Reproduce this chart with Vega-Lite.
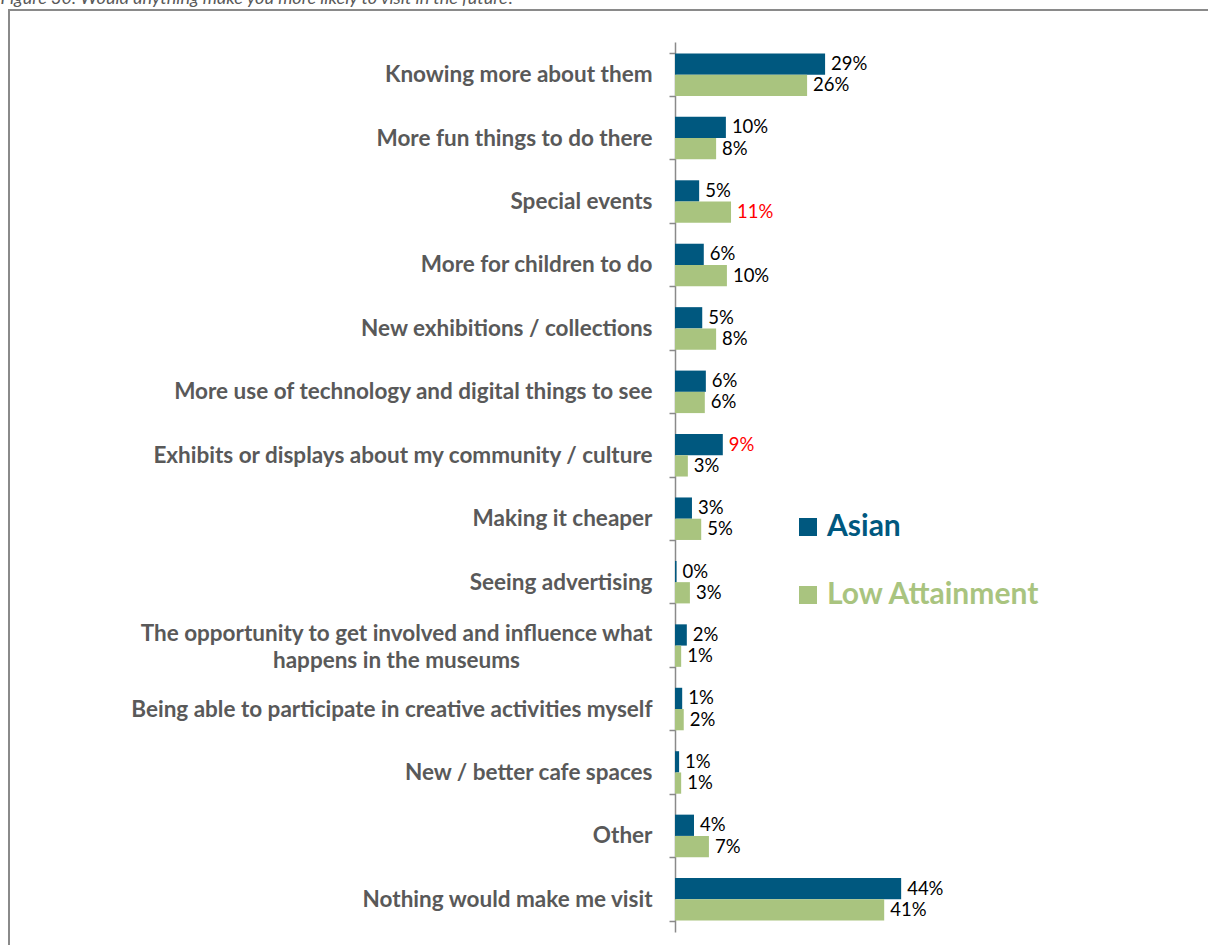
{
  "$schema": "https://vega.github.io/schema/vega-lite/v6.json",
  "autosize": {"type": "none"},
  "width": 1215,
  "height": 950,
  "padding": {"left": 9, "top": 10, "right": 0, "bottom": 0},
  "background": "white",
  "config": {
    "view": {"stroke": "#8a8a8a", "strokeWidth": 2},
    "font": "Lato"
  },
  "data": {
    "values": [
      {"category": "Knowing more about them", "group": "Asian", "value": 29.2, "label": "29%"},
      {"category": "Knowing more about them", "group": "Low Attainment", "value": 25.7, "label": "26%"},
      {"category": "More fun things to do there", "group": "Asian", "value": 9.9, "label": "10%"},
      {"category": "More fun things to do there", "group": "Low Attainment", "value": 8.0, "label": "8%"},
      {"category": "Special events", "group": "Asian", "value": 4.7, "label": "5%"},
      {"category": "Special events", "group": "Low Attainment", "value": 10.9, "label": "11%"},
      {"category": "More for children to do", "group": "Asian", "value": 5.6, "label": "6%"},
      {"category": "More for children to do", "group": "Low Attainment", "value": 10.1, "label": "10%"},
      {"category": "New exhibitions / collections", "group": "Asian", "value": 5.3, "label": "5%"},
      {"category": "New exhibitions / collections", "group": "Low Attainment", "value": 8.0, "label": "8%"},
      {"category": "More use of technology and digital things to see", "group": "Asian", "value": 6.0, "label": "6%"},
      {"category": "More use of technology and digital things to see", "group": "Low Attainment", "value": 5.8, "label": "6%"},
      {"category": "Exhibits or displays about my community / culture", "group": "Asian", "value": 9.3, "label": "9%"},
      {"category": "Exhibits or displays about my community / culture", "group": "Low Attainment", "value": 2.5, "label": "3%"},
      {"category": "Making it cheaper", "group": "Asian", "value": 3.3, "label": "3%"},
      {"category": "Making it cheaper", "group": "Low Attainment", "value": 5.1, "label": "5%"},
      {"category": "Seeing advertising", "group": "Asian", "value": 0.3, "label": "0%"},
      {"category": "Seeing advertising", "group": "Low Attainment", "value": 2.9, "label": "3%"},
      {"category": "The opportunity to get involved and influence what happens in the museums", "group": "Asian", "value": 2.3, "label": "2%"},
      {"category": "The opportunity to get involved and influence what happens in the museums", "group": "Low Attainment", "value": 1.2, "label": "1%"},
      {"category": "Being able to participate in creative activities myself", "group": "Asian", "value": 1.4, "label": "1%"},
      {"category": "Being able to participate in creative activities myself", "group": "Low Attainment", "value": 1.7, "label": "2%"},
      {"category": "New / better cafe spaces", "group": "Asian", "value": 0.8, "label": "1%"},
      {"category": "New / better cafe spaces", "group": "Low Attainment", "value": 1.2, "label": "1%"},
      {"category": "Other", "group": "Asian", "value": 3.7, "label": "4%"},
      {"category": "Other", "group": "Low Attainment", "value": 6.6, "label": "7%"},
      {"category": "Nothing would make me visit", "group": "Asian", "value": 44.0, "label": "44%"},
      {"category": "Nothing would make me visit", "group": "Low Attainment", "value": 40.7, "label": "41%"}
    ]
  },
  "encoding": {
    "y": {
      "field": "category",
      "type": "nominal",
      "sort": null,
      "scale": {"range": [32, 922], "paddingInner": 0.33, "paddingOuter": 0.18},
      "axis": {
        "title": null,
        "offset": -666,
        "domainColor": "#8a8a8a",
        "domainWidth": 1.5,
        "tickColor": "#8a8a8a",
        "tickWidth": 1.5,
        "tickSize": 6,
        "tickBand": "extent",
        "labelFont": "Lato",
        "labelFontSize": 22.5,
        "labelFontWeight": "bold",
        "labelColor": "#595959",
        "labelLimit": 700,
        "labelLineHeight": 27,
        "labelExpr": "datum.value == 'The opportunity to get involved and influence what happens in the museums' ? ['The opportunity to get involved and influence what', 'happens in the museums'] : datum.value",
        "labelAlign": {
          "condition": {"test": "datum.value == 'The opportunity to get involved and influence what happens in the museums'", "value": "center"},
          "value": "right"
        },
        "labelPadding": {
          "condition": {"test": "datum.value == 'The opportunity to get involved and influence what happens in the museums'", "value": 273},
          "value": 17
        },
        "labelOffset": {
          "condition": {"test": "datum.value == 'The opportunity to get involved and influence what happens in the museums'", "value": -12},
          "value": 0
        }
      }
    },
    "yOffset": {
      "field": "group",
      "type": "nominal",
      "sort": ["Asian", "Low Attainment"],
      "scale": {"paddingInner": 0, "paddingOuter": 0}
    },
    "x": {
      "field": "value",
      "type": "quantitative",
      "scale": {"domain": [0, 100], "range": [666, 1180], "nice": false, "zero": true},
      "axis": {
        "orient": "top",
        "domain": false,
        "ticks": false,
        "labels": false,
        "grid": false,
        "title": "Figure 30: Would anything make you more likely to visit in the future?",
        "titleFont": "Lato",
        "titleFontSize": 18,
        "titleFontStyle": "italic",
        "titleFontWeight": "normal",
        "titleColor": "#595959",
        "titleAlign": "left",
        "titleAnchor": "start",
        "titleBaseline": "alphabetic",
        "titleX": -9,
        "titleY": -7
      }
    }
  },
  "layer": [
    {
      "mark": {"type": "bar", "strokeWidth": 0.7},
      "encoding": {
        "color": {
          "field": "group",
          "type": "nominal",
          "scale": {"domain": ["Asian", "Low Attainment"], "range": ["#00587f", "#a9c47f"]},
          "legend": {
            "title": null,
            "orient": "none",
            "legendX": 784,
            "legendY": 502,
            "symbolType": "square",
            "symbolSize": 324,
            "symbolStrokeWidth": 0,
            "labelFont": "Lato",
            "labelFontSize": 30,
            "labelFontWeight": "bold",
            "labelOffset": 4,
            "labelLimit": 500,
            "rowPadding": 38,
            "encode": {
              "labels": {"update": {"fill": {"signal": "datum.value === 'Asian' ? '#00587f' : '#a9c47f'"}}},
              "symbols": {"update": {"opacity": {"value": 1}}}
            }
          }
        }
      }
    },
    {
      "mark": {"type": "text", "align": "left", "baseline": "middle", "dx": 6, "fontSize": 18.5, "font": "Lato"},
      "encoding": {
        "text": {"field": "label"},
        "color": {
          "condition": {
            "test": "(datum.category === 'Special events' && datum.group === 'Low Attainment') || (datum.category === 'Exhibits or displays about my community / culture' && datum.group === 'Asian')",
            "value": "#ff0000"
          },
          "value": "#000000"
        }
      }
    }
  ]
}
